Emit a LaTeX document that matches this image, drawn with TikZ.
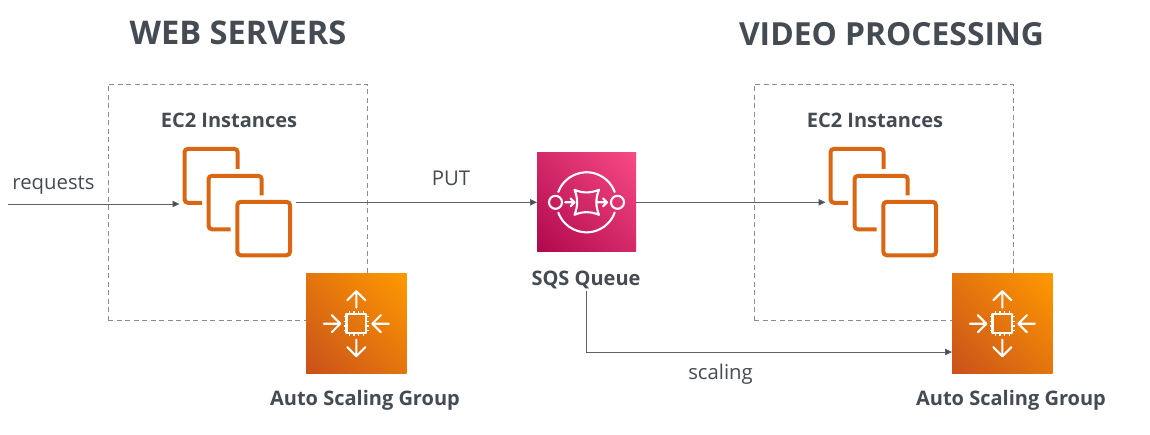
\documentclass[tikz,border=0pt]{standalone}
\usepackage{fontspec}
\setmainfont{Open Sans}
\usetikzlibrary{arrows.meta,shadings}
\definecolor{ink}{HTML}{444B52}
\definecolor{wire}{HTML}{5F6368}
\definecolor{ecorange}{HTML}{D86613}
\definecolor{asglow}{HTML}{C8511B}
\definecolor{asghigh}{HTML}{FF9900}
\definecolor{sqslow}{HTML}{B0084D}
\definecolor{sqshigh}{HTML}{F84A85}
\tikzset{
  x=1pt,y=-1pt,
  title/.style={font=\bfseries\fontsize{31.8}{36}\selectfont,text=ink,inner sep=0pt,anchor=center},
  titlewide/.style={title,font=\bfseries\fontsize{32.6}{36}\selectfont},
  label/.style={font=\bfseries\fontsize{20}{24}\selectfont,text=ink,inner sep=0pt,anchor=center},
  plain/.style={font=\fontsize{20.3}{24}\selectfont,text=ink,inner sep=0pt,anchor=center},
  groupbox/.style={draw=black!45,dash pattern=on 5pt off 3.5pt,line width=0.9pt},
  conn/.style={draw=wire,line width=0.8pt},
  arr/.style={conn,-{Triangle[length=7pt,width=6.5pt,fill=ink]},shorten >=4pt},
  ecbox/.style={minimum width=108pt,minimum height=108pt,inner sep=0pt,outer sep=0pt},
  asgbox/.style={minimum width=100.5pt,minimum height=99.5pt,inner sep=0pt,outer sep=0pt,
     lower left=asglow,upper right=asghigh,upper left=asglow!50!asghigh,lower right=asglow!50!asghigh},
  sqsbox/.style={minimum width=99pt,minimum height=99pt,inner sep=0pt,outer sep=0pt,
     lower left=sqslow,upper right=sqshigh,upper left=sqslow!50!sqshigh,lower right=sqslow!50!sqshigh},
  ecline/.style={draw=ecorange,line width=4pt,rounded corners=3.5pt,line cap=butt},
  wl/.style={draw=white,line width=2.1pt,line cap=round,line join=round},
  wthin/.style={draw=white,line width=1.3pt},
  ecicon/.pic={
    \draw[ecline] (-35.5,0.5) -- (-53,0.5) -- (-53,-53.5) -- (0.2,-53.5) -- (0.2,-33.5);
    \draw[ecline] (-7,27) -- (-29,27) -- (-29,-26.5) -- (24.2,-26.5) -- (24.2,-7);
    \draw[ecline] (-0.2,-0.5) rectangle (52.5,53);
  },
  asgicon/.pic={
    \draw[wl,line width=2.3pt] (-9.7,-9.5) rectangle (9.7,9.5);
    \foreach \t in {-7,-2.3,2.3,7}{
      \draw[wthin] (\t,-9.5) -- (\t,-12.5);
      \draw[wthin] (\t,9.5) -- (\t,12.5);
      \draw[wthin] (-9.7,\t) -- (-12.7,\t);
      \draw[wthin] (9.7,\t) -- (12.7,\t);
    }
    \draw[wl] (0,-16) -- (0,-32.5) (-9,-23.5) -- (0,-32.5) -- (9,-23.5);
    \draw[wl] (0,16) -- (0,32.5) (-9,23.5) -- (0,32.5) -- (9,23.5);
    \draw[wl] (-32.5,0) -- (-16,0) (-24.5,-8.5) -- (-16,0) -- (-24.5,8.5);
    \draw[wl] (32.5,0) -- (16,0) (24.5,-8.5) -- (16,0) -- (24.5,8.5);
  },
  sqsicon/.pic={
    \draw[wl] (-28.2,-10.3) arc[start angle=200,end angle=340,radius=30];
    \draw[wl] (-28.2,10.3) arc[start angle=160,end angle=20,radius=30];
    \draw[wl] (-31,0) circle[radius=6.5];
    \draw[wl] (31,0) circle[radius=6.5];
    \draw[wl] (-12,-12.5) .. controls (-4,-9) and (4,-9) .. (12.5,-12.5)
              .. controls (9,-4) and (9,4) .. (12.5,12.5)
              .. controls (4,9) and (-4,9) .. (-12,12.5)
              .. controls (-8.5,4) and (-8.5,-4) .. (-12,-12.5) -- cycle;
    \draw[wl] (-21.5,0) -- (-12,0) (-16,-4) -- (-12,0) -- (-16,4);
    \draw[wl] (10,0) -- (20.5,0) (16.5,-4) -- (20.5,0) -- (16.5,4);
  }
}
\begin{document}
\begin{tikzpicture}
\useasboundingbox (0,0) rectangle (1150,435);
\fill[white] (0,0) rectangle (1150,435);

% group frames
\node[groupbox,minimum width=259pt,minimum height=236pt,inner sep=0pt,outer sep=0pt] (groupa) at (237.5,202) {};
\node[groupbox,minimum width=259pt,minimum height=236pt,inner sep=0pt,outer sep=0pt] (groupb) at (883.5,202) {};

% titles
\node[titlewide] (titlea) at (238,33) {WEB SERVERS};
\node[title] (titleb) at (891.5,34) {VIDEO PROCESSING};

% node labels
\node[label] (eca) at (229,120.5) {EC2 Instances};
\node[label] (ecb) at (875,120.5) {EC2 Instances};
\node[label] (sqsl) at (586,279.5) {SQS Queue};
\node[label] (asgla) at (365,400.5) {Auto Scaling Group};
\node[label] (asglb) at (1011,400.5) {Auto Scaling Group};

% icons
\node[ecbox] (eca2) at (237.5,202.3) {};
\pic at (eca2.center) {ecicon};
\node[ecbox] (ecb2) at (883.5,202.3) {};
\pic at (ecb2.center) {ecicon};
\node[sqsbox] (sqs) at (586.5,202.3) {};
\pic at (sqs.center) {sqsicon};
\node[asgbox] (asga) at (356.3,323.7) {};
\pic at (asga.center) {asgicon};
\node[asgbox] (asgb) at (1002.3,323.7) {};
\pic at (asgb.center) {asgicon};

% connectors
\coordinate (req) at (8,204);
\coordinate (bend) at (586,352);
\draw[arr] (req) -- (eca2.west |- req);
\node[plain] (reql) at (53.5,185) {requests};
\draw[arr,shorten >=0pt] ([xshift=4pt]eca2.east) -- (sqs.west);
\node[plain] (putl) at (451,178.5) {PUT};
\draw[arr] (sqs.east) -- (ecb2.west);
\draw[arr,shorten >=0pt] ([yshift=-2pt]sqsl.south) -- (bend) -- (asgb.west |- bend);
\node[plain] (scl) at (720.5,374) {scaling};
\end{tikzpicture}
\end{document}
